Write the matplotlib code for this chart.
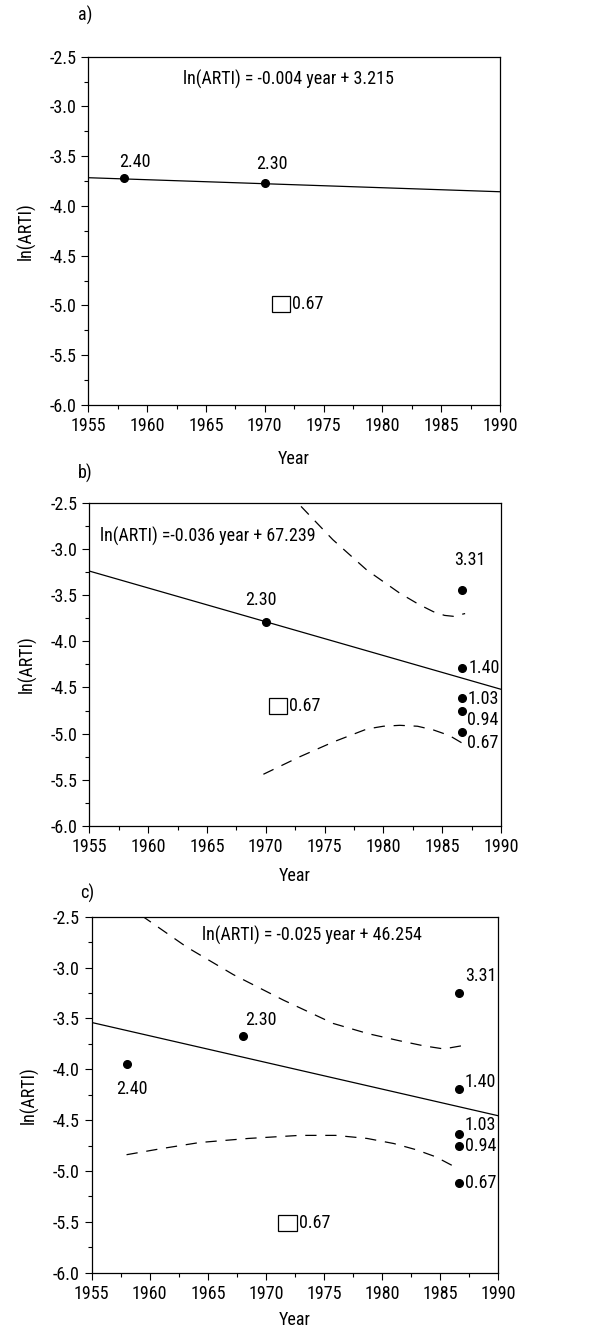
import matplotlib
matplotlib.use("Agg")
import matplotlib.pyplot as plt
from matplotlib.patches import Rectangle
from matplotlib.ticker import MultipleLocator
from matplotlib import font_manager

names = sorted({f.name for f in font_manager.fontManager.ttflist})
cands = ['DejaVu Sans Condensed', 'Roboto Condensed', 'Liberation Sans Narrow',
         'Open Sans Condensed', 'Arial Narrow']
fam = [c for c in cands if c in names] + ['Liberation Sans', 'DejaVu Sans']
plt.rcParams['font.family'] = fam
plt.rcParams['axes.unicode_minus'] = False

# ---------------- data ----------------
# panel a
a_years = [1958, 1970]
a_vals = [-3.72, -3.77]
a_labels = ["2.40", "2.30"]
a_fit_x = [1955, 1990]
a_fit_y = [-3.716, -3.857]
a_eq = "ln(ARTI) = -0.004 year + 3.215"

# panel b
b_years = [1970, 1986.7, 1986.7, 1986.7, 1986.7, 1986.7]
b_vals = [-3.79, -3.45, -4.29, -4.61, -4.75, -4.98]
b_labels = ["2.30", "3.31", "1.40", "1.03", "0.94", "0.67"]
b_fit_x = [1955, 1990]
b_fit_y = [-3.24, -4.52]
b_up_x = [1973.0, 1975.7, 1978.6, 1981.4, 1983.0, 1984.25, 1985.2, 1985.95, 1986.95]
b_up_y = [-2.54, -2.90, -3.23, -3.48, -3.60, -3.68, -3.72, -3.73, -3.70]
b_lo_x = [1969.8, 1972.9, 1975.75, 1978.6, 1980.0, 1981.4, 1982.9, 1984.25, 1985.6, 1986.8]
b_lo_y = [-5.44, -5.25, -5.09, -4.95, -4.92, -4.91, -4.92, -4.96, -5.02, -5.11]
b_eq = "ln(ARTI) =-0.036 year + 67.239"

# panel c
c_years = [1958, 1968, 1986.6, 1986.6, 1986.6, 1986.6, 1986.6]
c_vals = [-3.95, -3.67, -3.25, -4.19, -4.64, -4.75, -5.12]
c_labels = ["2.40", "2.30", "3.31", "1.40", "1.03", "0.94", "0.67"]
c_fit_x = [1955, 1990]
c_fit_y = [-3.54, -4.457]
c_up_x = [1959.3, 1963.2, 1967.2, 1971.5, 1975.8, 1978.8, 1981.5, 1983.6, 1985.3, 1986.8]
c_up_y = [-2.49, -2.80, -3.07, -3.32, -3.55, -3.65, -3.72, -3.77, -3.80, -3.77]
c_lo_x = [1958.0, 1961.0, 1964.3, 1968.5, 1972.9, 1976.0, 1978.7, 1981.0, 1982.9, 1984.6, 1986.1]
c_lo_y = [-4.84, -4.78, -4.72, -4.68, -4.65, -4.65, -4.68, -4.73, -4.79, -4.86, -4.95]
c_eq = "ln(ARTI) = -0.025 year + 46.254"

legend_label = "0.67"
xticks = [1955, 1960, 1965, 1970, 1975, 1980, 1985, 1990]
yticks = [-2.5, -3.0, -3.5, -4.0, -4.5, -5.0, -5.5, -6.0]

FS = 13
W, H = 590, 1331
fig = plt.figure(figsize=(W / 100, H / 100), dpi=100)


def make_ax(left, top, right, bottom, xpad):
    ax = fig.add_axes([left / W, 1 - bottom / H, (right - left) / W, (bottom - top) / H])
    ax.set_xlim(1955, 1990)
    ax.set_ylim(-6.0, -2.5)
    ax.set_xticks(xticks)
    ax.set_yticks(yticks)
    ax.set_yticklabels([f"{t:.1f}" for t in yticks])
    ax.xaxis.set_minor_locator(MultipleLocator(2.5))
    ax.yaxis.set_minor_locator(MultipleLocator(0.25))
    ax.tick_params(which='major', direction='out', length=5, width=0.8, labelsize=FS)
    ax.tick_params(which='minor', direction='out', length=3, width=0.8)
    for s in ax.spines.values():
        s.set_linewidth(0.9)
    ax.set_xlabel("Year", fontsize=FS, labelpad=xpad)
    ax.set_ylabel("ln(ARTI)", fontsize=FS, labelpad=10)
    return ax


def legend_box(ax, x0, x1, y0, y1):
    ax.add_patch(Rectangle((x0, y1), x1 - x0, y0 - y1, fill=False, lw=0.9, ec='black'))
    ax.text(x1 + 0.15, (y0 + y1) / 2, legend_label, fontsize=FS, va='center', ha='left')


def pts(ax, xs, ys, labels, offsets, has):
    ax.plot(xs, ys, 'o', color='black', markersize=5.5, zorder=3)
    for x, y, lab, off, ha in zip(xs, ys, labels, offsets, has):
        ax.annotate(lab, (x, y), xytext=off, textcoords='offset pixels',
                    fontsize=FS, ha=ha, va='center')


dash = dict(color='black', lw=0.9, linestyle=(0, (9, 7)))

# ---- panel a ----
ax = make_ax(88.3, 56.7, 500, 405, 11)
ax.plot(a_fit_x, a_fit_y, color='black', lw=0.9)
pts(ax, a_years, a_vals, a_labels, [(11, 16), (7, 19)], ['center', 'center'])
ax.text(1972.0, -2.73, a_eq, fontsize=FS, ha='center', va='center')
legend_box(ax, 1970.6, 1972.15, -4.90, -5.07)
fig.text(85 / W, 1 - 15 / H, "a)", fontsize=FS, ha='center', va='center')

# ---- panel b ----
ax = make_ax(89.3, 502.7, 501, 826, 8)
ax.plot(b_fit_x, b_fit_y, color='black', lw=0.9)
ax.plot(b_up_x, b_up_y, **dash)
ax.plot(b_lo_x, b_lo_y, **dash)
pts(ax, b_years, b_vals, b_labels,
    [(-5, 22), (8, 30), (6, 0), (5, -1), (5, -9), (5, -11)],
    ['center', 'center', 'left', 'left', 'left', 'left'])
ax.text(1955.9, -2.87, b_eq, fontsize=FS, ha='left', va='center')
legend_box(ax, 1970.25, 1971.8, -4.61, -4.79)
fig.text(85 / W, 1 - 473 / H, "b)", fontsize=FS, ha='center', va='center')

# ---- panel c ----
ax = make_ax(91.7, 916.7, 498.3, 1272.7, 6)
ax.plot(c_fit_x, c_fit_y, color='black', lw=0.9)
ax.plot(c_up_x, c_up_y, **dash)
ax.plot(c_lo_x, c_lo_y, **dash)
pts(ax, c_years, c_vals, c_labels,
    [(5, -25), (18, 16), (6, 17), (6, 7), (6, 9), (6, 0), (6, 0)],
    ['center', 'center', 'left', 'left', 'left', 'left', 'left'])
ax.text(1974.0, -2.68, c_eq, fontsize=FS, ha='center', va='center')
legend_box(ax, 1971.0, 1972.7, -5.43, -5.59)
fig.text(87 / W, 1 - 893 / H, "c)", fontsize=FS, ha='center', va='center')

fig.savefig("out.png", dpi=100)
